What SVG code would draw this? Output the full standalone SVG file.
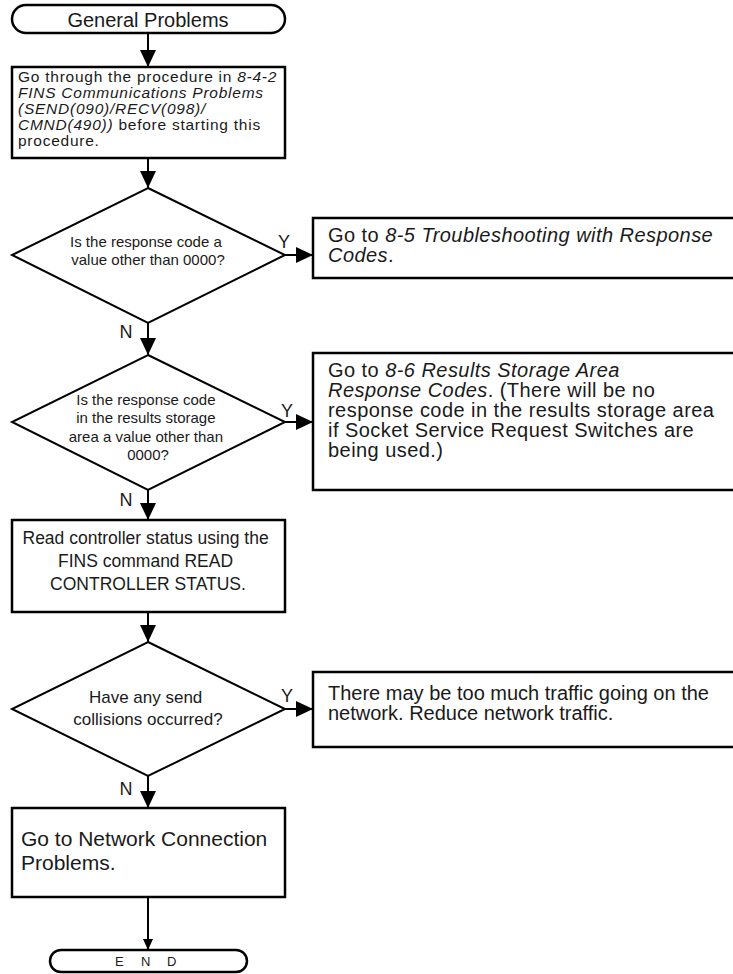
<svg xmlns="http://www.w3.org/2000/svg" width="733" height="974" viewBox="0 0 733 974">
<style>
.shape{fill:#fff;stroke:#000;stroke-width:2.5}
.dia{fill:#fff;stroke:#000;stroke-width:2}
.t{font-family:"Liberation Sans",Arial,sans-serif;fill:#1a1a1a}
.i{font-style:italic}
.c{text-anchor:middle}
.conn{stroke:#000;stroke-width:2;fill:none}
</style>
<defs>
<marker id="ah" markerUnits="userSpaceOnUse" markerWidth="17" markerHeight="16" refX="17" refY="8" orient="auto">
<path d="M0,0 L17,8 L0,16 Z" fill="#000"/>
</marker>
<marker id="ahs" markerUnits="userSpaceOnUse" markerWidth="11" markerHeight="10" refX="11" refY="5" orient="auto">
<path d="M0,0 L11,5 L0,10 Z" fill="#000"/>
</marker>
</defs>
<rect width="733" height="974" fill="#fff"/>

<g id="connectors">
<line class="conn" x1="148" y1="33" x2="148" y2="67" marker-end="url(#ah)"/>
<line class="conn" x1="148" y1="158" x2="148" y2="188" marker-end="url(#ah)"/>
<line class="conn" x1="148" y1="323" x2="148" y2="355" marker-end="url(#ah)"/>
<line class="conn" x1="148" y1="490" x2="148" y2="520" marker-end="url(#ah)"/>
<line class="conn" x1="148" y1="612" x2="148" y2="642" marker-end="url(#ah)"/>
<line class="conn" x1="148" y1="776" x2="148" y2="808" marker-end="url(#ah)"/>
<line class="conn" x1="148" y1="897" x2="148" y2="950" marker-end="url(#ahs)"/>
<line class="conn" x1="285" y1="255" x2="313" y2="255" marker-end="url(#ah)"/>
<line class="conn" x1="285" y1="422" x2="313" y2="422" marker-end="url(#ah)"/>
<line class="conn" x1="285" y1="709" x2="313" y2="709" marker-end="url(#ah)"/>
<text class="t" x="284" y="248" font-size="18" text-anchor="middle">Y</text>
<text class="t" x="287" y="417" font-size="18" text-anchor="middle">Y</text>
<text class="t" x="287" y="702" font-size="18" text-anchor="middle">Y</text>
<text class="t" x="126" y="338" font-size="18" text-anchor="middle">N</text>
<text class="t" x="126" y="506" font-size="18" text-anchor="middle">N</text>
<text class="t" x="126" y="795" font-size="18" text-anchor="middle">N</text>
</g>

<g id="start">
<rect class="shape" x="12" y="5" width="273" height="28" rx="14"/>
<text class="t c" x="148" y="27" font-size="20">General Problems</text>
</g>

<g id="box1">
<rect class="shape" x="12" y="67" width="273" height="91"/>
<text class="t" font-size="15.5" letter-spacing="0.75">
<tspan x="18" y="82">Go through the procedure in <tspan class="i">8-4-2</tspan></tspan>
<tspan x="18" y="98" class="i">FINS Communications Problems</tspan>
<tspan x="18" y="114" class="i">(SEND(090)/RECV(098)/</tspan>
<tspan x="18" y="130"><tspan class="i">CMND(490))</tspan> before starting this</tspan>
<tspan x="18" y="146">procedure.</tspan>
</text>
</g>

<g id="dec1">
<polygon class="dia" points="148,188 285,255 148,323 12,255"/>
<text class="t c" font-size="15">
<tspan x="148" y="247">Is the response code a</tspan>
<tspan x="148" y="265">value other than 0000?</tspan>
</text>
</g>

<g id="res1">
<rect class="shape" x="313" y="218" width="430" height="60"/>
<text class="t" font-size="20" letter-spacing="0.45">
<tspan x="328" y="242">Go to <tspan class="i">8-5 Troubleshooting with Response</tspan></tspan>
<tspan x="328" y="262"><tspan class="i">Codes</tspan>.</tspan>
</text>
</g>

<g id="dec2">
<polygon class="dia" points="148,355 285,422 148,490 12,422"/>
<text class="t c" font-size="15">
<tspan x="148" y="405">Is the response code</tspan>
<tspan x="148" y="423">in the results storage</tspan>
<tspan x="148" y="442">area a value other than</tspan>
<tspan x="148" y="460">0000?</tspan>
</text>
</g>

<g id="res2">
<rect class="shape" x="313" y="353" width="430" height="137"/>
<text class="t" font-size="20" letter-spacing="0.45">
<tspan x="328" y="377">Go to <tspan class="i">8-6 Results Storage Area</tspan></tspan>
<tspan x="328" y="397"><tspan class="i">Response Codes</tspan>. (There will be no</tspan>
<tspan x="328" y="417">response code in the results storage area</tspan>
<tspan x="328" y="437">if Socket Service Request Switches are</tspan>
<tspan x="328" y="457">being used.)</tspan>
</text>
</g>

<g id="box2">
<rect class="shape" x="12" y="520" width="273" height="92"/>
<text class="t c" font-size="17.5">
<tspan x="148" y="544">Read controller status using the</tspan>
<tspan x="148" y="567">FINS command READ</tspan>
<tspan x="148" y="590">CONTROLLER STATUS.</tspan>
</text>
</g>

<g id="dec3">
<polygon class="dia" points="148,642 285,709 148,776 12,709"/>
<text class="t c" font-size="17">
<tspan x="148" y="703">Have any send</tspan>
<tspan x="148" y="725">collisions occurred?</tspan>
</text>
</g>

<g id="res3">
<rect class="shape" x="313" y="672" width="430" height="75"/>
<text class="t" font-size="20">
<tspan x="328" y="700">There may be too much traffic going on the</tspan>
<tspan x="328" y="720">network. Reduce network traffic.</tspan>
</text>
</g>

<g id="box3">
<rect class="shape" x="12" y="808" width="273" height="89"/>
<text class="t" font-size="21">
<tspan x="21" y="846">Go to Network Connection</tspan>
<tspan x="21" y="870">Problems.</tspan>
</text>
</g>

<g id="end">
<rect class="shape" x="50" y="950" width="197" height="22" rx="11"/>
<text class="t" font-size="13" x="115 141 167" y="966">END</text>
</g>
</svg>
